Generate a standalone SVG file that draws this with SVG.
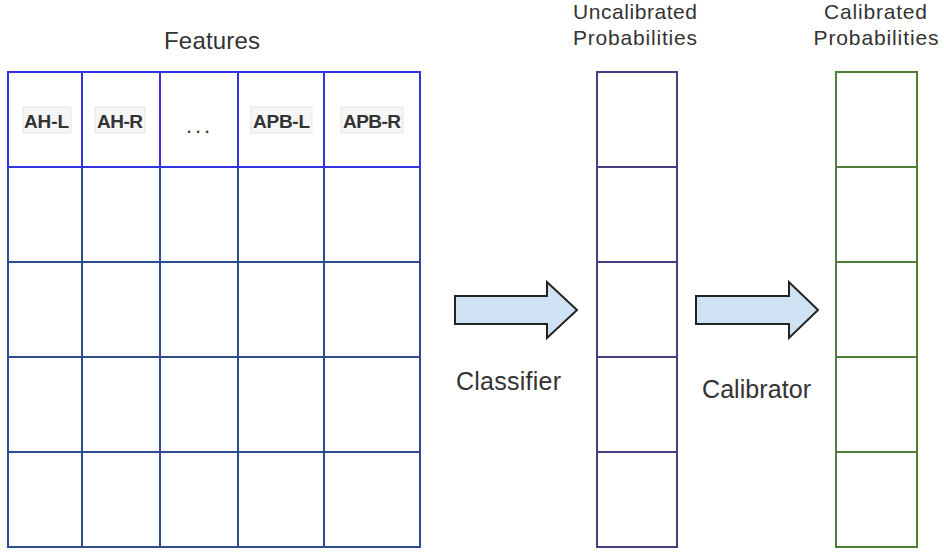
<svg xmlns="http://www.w3.org/2000/svg" width="944" height="554" viewBox="0 0 944 554">
<style>
.t{font-family:"Liberation Sans",Arial,sans-serif;fill:#333}
.h{font-family:"Liberation Sans",Arial,sans-serif;font-weight:bold;font-size:19px;fill:#333;text-anchor:middle}
.lbl{fill:#f6f6f6;stroke:#e6e6e6;stroke-width:1}
.body{fill:none;stroke:#2d4d8e;stroke-width:2}
.head{fill:none;stroke:#3333e0;stroke-width:2}
.unc{fill:none;stroke:#4a3c80;stroke-width:2}
.cal{fill:none;stroke:#4e7f36;stroke-width:2}
.arr{fill:#cfe2f3;stroke:#222;stroke-width:2;stroke-linejoin:miter}
</style>
<g id="features">
<text class="t" x="212" y="49" font-size="24" text-anchor="middle" textLength="96">Features</text>
<g id="grid-body">
<rect class="body" x="8" y="167" width="412" height="380"/>
<line class="body" x1="8" y1="262" x2="420" y2="262"/>
<line class="body" x1="8" y1="357" x2="420" y2="357"/>
<line class="body" x1="8" y1="452" x2="420" y2="452"/>
<line class="body" x1="82" y1="167" x2="82" y2="547"/>
<line class="body" x1="160" y1="167" x2="160" y2="547"/>
<line class="body" x1="238" y1="167" x2="238" y2="547"/>
<line class="body" x1="324" y1="167" x2="324" y2="547"/>
</g>
<g id="grid-header">
<rect class="head" x="8" y="72" width="412" height="95"/>
<line class="head" x1="82" y1="72" x2="82" y2="167"/>
<line class="head" x1="160" y1="72" x2="160" y2="167"/>
<line class="head" x1="238" y1="72" x2="238" y2="167"/>
<line class="head" x1="324" y1="72" x2="324" y2="167"/>
<rect class="lbl" x="23" y="107" width="48" height="26"/>
<text class="h" x="46.5" y="128" textLength="45">AH-L</text>
<rect class="lbl" x="95" y="107" width="50" height="26"/>
<text class="h" x="120" y="128" textLength="46">AH-R</text>
<text class="t" x="198" y="133" font-size="22" text-anchor="middle" textLength="24">...</text>
<rect class="lbl" x="251" y="107" width="61" height="26"/>
<text class="h" x="281.5" y="128" textLength="57">APB-L</text>
<rect class="lbl" x="341" y="107" width="62" height="26"/>
<text class="h" x="372" y="128" textLength="58">APB-R</text>
</g>
</g>
<g id="uncalibrated">
<text class="t" x="635" y="19" font-size="21" text-anchor="middle" textLength="124">Uncalibrated</text>
<text class="t" x="635" y="45" font-size="21" text-anchor="middle" textLength="124">Probabilities</text>
<rect class="unc" x="597" y="72" width="80" height="475"/>
<line class="unc" x1="597" y1="167" x2="677" y2="167"/>
<line class="unc" x1="597" y1="262" x2="677" y2="262"/>
<line class="unc" x1="597" y1="357" x2="677" y2="357"/>
<line class="unc" x1="597" y1="452" x2="677" y2="452"/>
</g>
<g id="calibrated">
<text class="t" x="875.5" y="19" font-size="21" text-anchor="middle" textLength="103">Calibrated</text>
<text class="t" x="876" y="45" font-size="21" text-anchor="middle" textLength="125">Probabilities</text>
<rect class="cal" x="836" y="72" width="81" height="475"/>
<line class="cal" x1="836" y1="167" x2="917" y2="167"/>
<line class="cal" x1="836" y1="262" x2="917" y2="262"/>
<line class="cal" x1="836" y1="357" x2="917" y2="357"/>
<line class="cal" x1="836" y1="452" x2="917" y2="452"/>
</g>
<g id="connectors">
<g id="classifier">
<path class="arr" d="M455,296 L547,296 L547,282 L577,310 L547,338 L547,324 L455,324 Z"/>
<text class="t" x="508.5" y="390" font-size="25" text-anchor="middle" textLength="105">Classifier</text>
</g>
<g id="calibrator">
<path class="arr" d="M696,296 L789,296 L789,282 L818,310 L789,338 L789,324 L696,324 Z"/>
<text class="t" x="756.5" y="398" font-size="25" text-anchor="middle" textLength="109">Calibrator</text>
</g>
</g>
</svg>
